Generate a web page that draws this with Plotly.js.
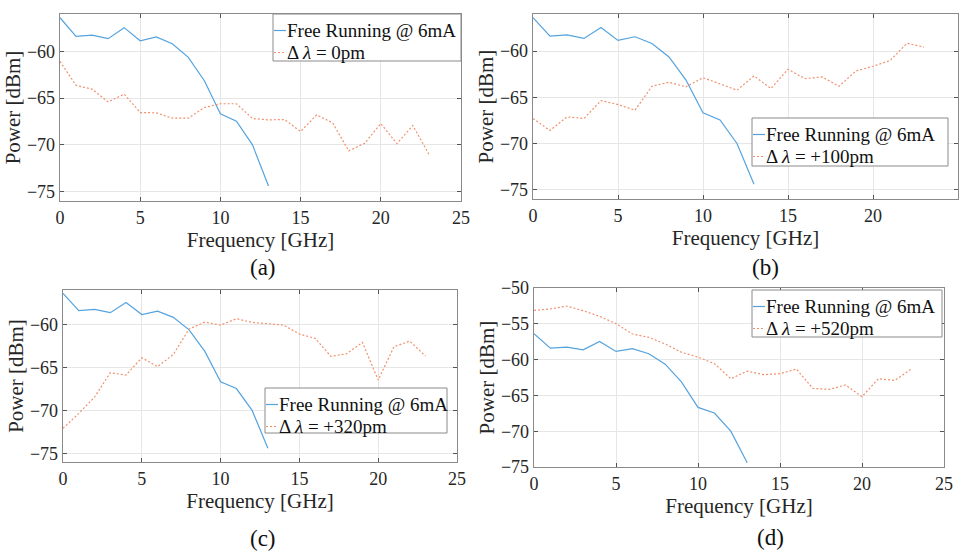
<!DOCTYPE html>
<html>
<head>
<meta charset="utf-8">
<script src="https://cdn.plot.ly/plotly-3.0.1.min.js"></script>
<style>html,body{margin:0;padding:0;background:#fff;}#chart{width:965px;height:552px;}</style>
</head>
<body>
<div id="chart"></div>
<script>
// ---- data ----
const freqFree = [0,1,2,3,4,5,6,7,8,9,10,11,12,13];
const powerFree = [-56.4,-58.4,-58.25,-58.64,-57.46,-58.86,-58.46,-59.18,-60.64,-63.14,-66.68,-67.46,-70.0,-74.4];

const freqInj = [0,1,2,3,4,5,6,7,8,9,10,11,12,13,14,15,16,17,18,19,20,21,22,23];
const power0pm = [-61.07,-63.64,-64.04,-65.4,-64.57,-66.54,-66.57,-67.14,-67.14,-66.0,-65.6,-65.6,-67.18,-67.32,-67.29,-68.57,-66.79,-67.64,-70.64,-69.82,-67.71,-69.86,-67.93,-71.0];
const power100pm = [-67.3,-68.6,-67.12,-67.3,-65.36,-65.79,-66.4,-63.81,-63.38,-63.88,-62.88,-63.53,-64.24,-62.7,-64.06,-61.98,-62.99,-62.8,-63.81,-62.16,-61.65,-61.04,-59.17,-59.57];
const power320pm = [-72.09,-70.35,-68.45,-65.62,-65.89,-63.88,-64.92,-63.49,-60.54,-59.73,-60.08,-59.34,-59.77,-59.96,-60.08,-61.12,-61.63,-63.72,-63.41,-62.09,-66.47,-62.6,-61.94,-63.68];
const power520pm = [-53.12,-52.93,-52.52,-53.17,-53.96,-54.98,-56.43,-56.89,-57.82,-58.99,-59.64,-60.57,-62.67,-61.6,-62.11,-61.97,-61.32,-64.02,-64.16,-63.55,-65.18,-62.67,-62.9,-61.32];

const freeName = "Free Running @ 6mA";
const injNames = ["Δ <i>λ</i> = 0pm", "Δ <i>λ</i> = +100pm", "Δ <i>λ</i> = +320pm", "Δ <i>λ</i> = +520pm"];
const injSeries = [power0pm, power100pm, power320pm, power520pm];
const panelLabels = ["(a)", "(b)", "(c)", "(d)"];
const yRanges = [[-76,-56],[-76,-56],[-76,-56],[-75,-50]];
const xTicks = [0,5,10,15,20,25];

// ---- layout helpers ----
const W = 965, H = 552;
const FONT = "Liberation Serif";
const BLUE = "#55a3de";
const ORANGE = "#f0916e";
// pixel boxes of each panel: [left, right, top, bottom]
const boxes = [[60,461,14,201],[533,958,14,199],[63,457,290,462],[534,944,288,467]];
// legend boxes: [left, right, top, bottom]
const legendBoxes = [[273,461,14,61],[752,948,118,166],[265,447,388,433],[752,942,290,337]];
const labelPos = [[263,267],[765,267],[263,538],[770,537]];

const px = v => v / W;
const py = v => 1 - v / H;

const traces = [];
const layout = {
  width: W, height: H,
  margin: {l:0,r:0,t:0,b:0},
  paper_bgcolor: "#fff", plot_bgcolor: "#fff",
  font: {family: FONT, color: "#262626", size: 18},
  annotations: [],
  shapes: [],
  showlegend: false
};

for (let i = 0; i < 4; i++) {
  const sfx = i === 0 ? "" : String(i+1);
  const xa = "x" + sfx, ya = "y" + sfx;
  traces.push({x: freqFree, y: powerFree, type: "scatter", mode: "lines", name: freeName,
    xaxis: xa, yaxis: ya, line: {color: BLUE, width: 1.2}});
  traces.push({x: freqInj, y: injSeries[i], type: "scatter", mode: "lines", name: injNames[i],
    xaxis: xa, yaxis: ya, line: {color: ORANGE, width: 1.2, dash: "2px,2px"}});
  const b = boxes[i];
  const axCommon = {
    showgrid: true, gridcolor: "#e6e6e6", gridwidth: 1,
    zeroline: false, showline: true, linecolor: "#8a8a8a", linewidth: 1.3, mirror: "ticks",
    ticks: "inside", ticklen: 4, tickcolor: "#555", tickwidth: 1,
    tickfont: {family: FONT, size: 18, color: "#262626"}
  };
  layout["xaxis" + sfx] = Object.assign({}, axCommon, {
    domain: [px(b[0]), px(b[1])], anchor: ya, range: [0,25], tickvals: xTicks,
    title: {text: "Frequency [GHz]", font: {family: FONT, size: 21, color: "#262626"}, standoff: 4}
  });
  layout["yaxis" + sfx] = Object.assign({}, axCommon, {
    domain: [py(b[3]), py(b[2])], anchor: xa, range: yRanges[i], dtick: 5,
    title: {text: "Power [dBm]", font: {family: FONT, size: 21, color: "#262626"}, standoff: 0}
  });

  // legend box (drawn as layout decoration)
  const lb = legendBoxes[i];
  layout.shapes.push({type: "rect", xref: "paper", yref: "paper", layer: "above",
    x0: px(lb[0]), x1: px(lb[1]), y0: py(lb[3]), y1: py(lb[2]),
    fillcolor: "#fff", line: {color: "#8a8a8a", width: 1}});
  const rows = [[lb[2] + 16.5, BLUE, "solid", freeName], [lb[2] + 38.5, ORANGE, "dot", injNames[i]]];
  rows.forEach(r => {
    layout.shapes.push({type: "line", xref: "paper", yref: "paper", layer: "above",
      x0: px(lb[0] + 1), x1: px(lb[0] + 13), y0: py(r[0]), y1: py(r[0]),
      line: {color: r[1], width: 1.2, dash: r[2] === "dot" ? "2px,2px" : "solid"}});
    layout.annotations.push({text: r[3], xref: "paper", yref: "paper",
      x: px(lb[0] + 12), y: py(r[0]), xanchor: "left", yanchor: "middle", showarrow: false,
      font: {family: FONT, size: 19, color: "#111"}});
  });

  const p = labelPos[i];
  layout.annotations.push({text: panelLabels[i], x: px(p[0]), y: py(p[1]), xref: "paper", yref: "paper",
    xanchor: "center", yanchor: "middle", showarrow: false, font: {family: FONT, size: 23, color: "#111"}});
}

Plotly.newPlot("chart", traces, layout, {displayModeBar: false, staticPlot: true});
</script>
</body>
</html>
